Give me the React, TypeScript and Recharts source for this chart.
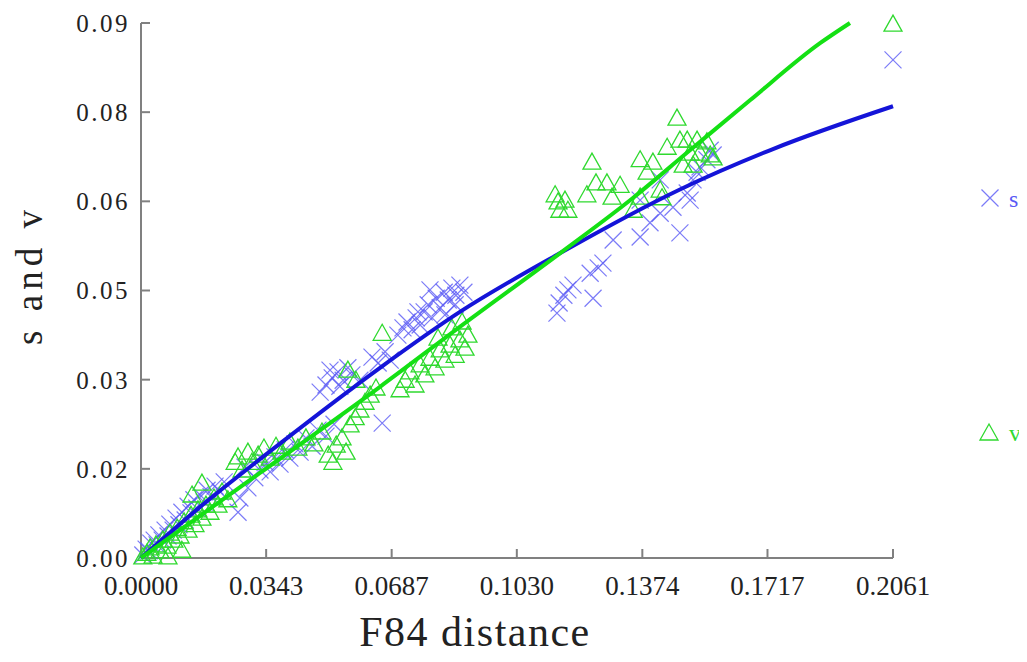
import React from 'react'
import { ScatterChart, Scatter, XAxis, YAxis } from 'recharts'

// F84 distance vs s / v
const xTicks = [0, 0.0343, 0.0687, 0.103, 0.1374, 0.1717, 0.2061]
const yTicks = [0, 0.015, 0.03, 0.045, 0.06, 0.075, 0.09]
const yTickLabels = ['0.00', '0.02', '0.03', '0.05', '0.06', '0.08', '0.09']

const sPoints: [number, number][] = [
  [0.0005, 0.0005], [0.0014, 0.0015], [0.0022, 0.0012], [0.0027, 0.0025], [0.0036, 0.003],
  [0.0044, 0.0022], [0.0049, 0.0039], [0.0058, 0.003], [0.0066, 0.0047], [0.0074, 0.0037],
  [0.0079, 0.0057], [0.0088, 0.0047], [0.0096, 0.0067], [0.0104, 0.0056], [0.0112, 0.0077],
  [0.0121, 0.0064], [0.0129, 0.0087], [0.0137, 0.0076], [0.0145, 0.0098], [0.0153, 0.0084],
  [0.0162, 0.0106], [0.0173, 0.0094], [0.0181, 0.0114], [0.0192, 0.0103], [0.0203, 0.0121],
  [0.0217, 0.0111], [0.0228, 0.0128], [0.0266, 0.0077], [0.0285, 0.0153],
  [0.0271, 0.0101], [0.0293, 0.0118], [0.0312, 0.0135], [0.0326, 0.0148], [0.034, 0.0161],
  [0.0354, 0.0145], [0.0367, 0.017], [0.0381, 0.0158], [0.0395, 0.0182], [0.0408, 0.0168],
  [0.0422, 0.0192], [0.0436, 0.0178], [0.0452, 0.0202], [0.0469, 0.0188], [0.0485, 0.0215],
  [0.0507, 0.0205], [0.0529, 0.0225], [0.0661, 0.0227],
  [0.0491, 0.0279], [0.0507, 0.0291], [0.0524, 0.0303], [0.054, 0.0313], [0.0554, 0.0299],
  [0.0567, 0.032], [0.0518, 0.0316], [0.0545, 0.0289], [0.0578, 0.0308], [0.06, 0.0299],
  [0.0633, 0.0338], [0.065, 0.0328], [0.0669, 0.0347], [0.0683, 0.0333],
  [0.0704, 0.0375], [0.0718, 0.0387], [0.0729, 0.0397], [0.0743, 0.0384], [0.0754, 0.0404],
  [0.0765, 0.0392], [0.0776, 0.0414], [0.0787, 0.0426], [0.0798, 0.0404], [0.0809, 0.0437],
  [0.082, 0.0421], [0.0831, 0.0447], [0.0842, 0.0434], [0.0852, 0.0454], [0.0863, 0.0442],
  [0.0874, 0.0459], [0.0885, 0.0447], [0.0759, 0.0414], [0.0792, 0.0451], [0.0833, 0.0409],
  [0.0861, 0.0426],
  [0.114, 0.0412], [0.1146, 0.0429], [0.1159, 0.0442], [0.117, 0.0451], [0.1184, 0.0459],
  [0.1239, 0.0437], [0.1231, 0.0479], [0.1253, 0.0488], [0.1266, 0.0496], [0.1294, 0.0535],
  [0.1368, 0.054], [0.1368, 0.0602], [0.1395, 0.0564], [0.1423, 0.058], [0.1423, 0.0636],
  [0.1458, 0.059], [0.1477, 0.0547], [0.1497, 0.0614], [0.1513, 0.0636], [0.1532, 0.0658],
  [0.1551, 0.067], [0.156, 0.0686], [0.1568, 0.0678], [0.1505, 0.0602], [0.1524, 0.0649],
  [0.2061, 0.0838],
]

const vPoints: [number, number][] = [
  [0.0005, 0.0002], [0.0016, 0.0008], [0.0025, 0.0017], [0.0033, 0.0003], [0.0041, 0.0022],
  [0.0052, 0.0012], [0.006, 0.003], [0.0071, 0.002], [0.0074, 0.0002], [0.0079, 0.0042],
  [0.009, 0.003], [0.0099, 0.005], [0.0107, 0.0037], [0.0112, 0.0013], [0.0118, 0.0061],
  [0.0129, 0.0047], [0.0137, 0.0072], [0.014, 0.0106], [0.0148, 0.0056], [0.0156, 0.0081],
  [0.0167, 0.0126], [0.0167, 0.0067], [0.0178, 0.0089], [0.0189, 0.0077], [0.02, 0.0101],
  [0.0211, 0.0089], [0.0222, 0.0111], [0.0238, 0.0098],
  [0.0258, 0.0161], [0.0266, 0.017], [0.0277, 0.0148], [0.0293, 0.0178], [0.0304, 0.0161],
  [0.0321, 0.0173], [0.0337, 0.0185], [0.0354, 0.0168], [0.037, 0.0188], [0.0386, 0.0178],
  [0.0408, 0.0195], [0.043, 0.0185], [0.0452, 0.0202], [0.0474, 0.0192], [0.0496, 0.0212],
  [0.0513, 0.0173], [0.0526, 0.0161], [0.0535, 0.019], [0.0551, 0.0202], [0.0562, 0.0178],
  [0.0573, 0.0224], [0.0587, 0.0236], [0.06, 0.0249], [0.0614, 0.0262], [0.0628, 0.0274],
  [0.0644, 0.0286], [0.0661, 0.0378], [0.0567, 0.0316], [0.0589, 0.0299],
  [0.071, 0.0283], [0.0724, 0.0299], [0.0737, 0.0313], [0.0751, 0.0291], [0.0765, 0.0325],
  [0.0778, 0.0308], [0.0792, 0.0336], [0.0806, 0.032], [0.082, 0.035], [0.0833, 0.0333],
  [0.0847, 0.0358], [0.0861, 0.0341], [0.0874, 0.0367], [0.0888, 0.0353], [0.0896, 0.0375],
  [0.0852, 0.0387], [0.088, 0.0397], [0.0814, 0.037],
  [0.1135, 0.0611], [0.1143, 0.0599], [0.1162, 0.0602], [0.1148, 0.0585], [0.117, 0.0585],
  [0.1222, 0.0611], [0.1236, 0.0666], [0.1247, 0.0631], [0.1277, 0.0631], [0.1291, 0.0607],
  [0.1313, 0.0627], [0.1349, 0.0585],
  [0.1368, 0.067], [0.1368, 0.0607], [0.1387, 0.0649], [0.1403, 0.0666], [0.1423, 0.0619],
  [0.1428, 0.0606], [0.1442, 0.0691], [0.1469, 0.074], [0.1477, 0.0703], [0.1486, 0.0661],
  [0.1497, 0.0703], [0.1505, 0.0681], [0.1513, 0.0661], [0.1524, 0.0703], [0.1532, 0.0681],
  [0.1551, 0.07], [0.156, 0.0678], [0.1568, 0.0673],
  [0.2061, 0.0898],
]

// fitted curves
const sFit: [number, number][] = [
  [0, 0], [0.0162, 0.0086], [0.0386, 0.0195], [0.0655, 0.032], [0.0874, 0.0414],
  [0.1149, 0.0513], [0.1477, 0.062], [0.1732, 0.0688], [0.2061, 0.076],
]
const vFit: [number, number][] = [
  [0, 0], [0.0326, 0.0143], [0.0655, 0.0288], [0.0883, 0.0393], [0.1149, 0.0513],
  [0.1349, 0.0606], [0.1497, 0.0682], [0.1669, 0.077], [0.1861, 0.0866], [0.1943, 0.09],
]

const toObj = (arr: [number, number][]) => arr.map(([x, y]) => ({ x, y }))

const S_COLOR = '#5a5af5'
const V_COLOR = '#2fd92f'

const XMark = (props: any) => {
  const { cx, cy } = props
  const r = 8.5
  return (
    <path
      d={`M${cx - r},${cy - r}L${cx + r},${cy + r}M${cx + r},${cy - r}L${cx - r},${cy + r}`}
      stroke={S_COLOR}
      strokeWidth={1.2}
      strokeOpacity={0.8}
      fill="none"
    />
  )
}

const TriMark = (props: any) => {
  const { cx, cy } = props
  return (
    <path
      d={`M${cx},${cy - 9}L${cx + 9},${cy + 7}L${cx - 9},${cy + 7}Z`}
      stroke={V_COLOR}
      strokeWidth={1.3}
      fill="none"
    />
  )
}

const Empty = () => <g />

const axisColor = '#808080'

const App = () => {
  return (
    <div style={{ position: 'relative', width: 1011, height: 646 }}>
      <ScatterChart width={1011} height={646} margin={{ top: 15, right: 126, left: 0, bottom: 0 }}>
        <XAxis
          type="number"
          dataKey="x"
          domain={[0, 0.2061]}
          ticks={xTicks}
          tickFormatter={(v: number) => v.toFixed(4)}
          height={96}
          tickSize={-9}
          tickMargin={27}
          stroke={axisColor}
          strokeWidth={2}
          tick={{ fill: '#222', fontSize: 27, fontFamily: 'Liberation Serif' }}
          label={{
            content: (p: any) => {
              const vb = p.viewBox
              return (
                <text
                  x={vb.x + vb.width / 2 - 42}
                  y={vb.y + 88}
                  textAnchor="middle"
                  fontSize={42}
                  fontFamily="Liberation Serif"
                  letterSpacing={1.5}
                  fill="#222"
                >
                  F84 distance
                </text>
              )
            },
          }}
        />
        <YAxis
          type="number"
          dataKey="y"
          domain={[0, 0.09]}
          ticks={yTicks}
          tickFormatter={(v: number, i: number) => yTickLabels[i]}
          width={133}
          tickSize={-9}
          tickMargin={20}
          stroke={axisColor}
          strokeWidth={2}
          tick={{ fill: '#222', fontSize: 25, fontFamily: 'Liberation Serif', letterSpacing: 2.5 }}
          label={{
            content: () => (
              <text
                transform="translate(34,267) rotate(-90)"
                textAnchor="middle"
                fontSize={37}
                fontFamily="Liberation Serif"
                letterSpacing={5}
                fill="#222"
              >
                s and v
              </text>
            ),
          }}
        />
        <Scatter data={toObj(sPoints)} shape={<XMark />} isAnimationActive={false} />
        <Scatter data={toObj(vPoints)} shape={<TriMark />} isAnimationActive={false} />
        <Scatter
          data={toObj(sFit)}
          line={{ stroke: '#1414d8', strokeWidth: 4 }}
          lineJointType="monotoneX"
          shape={<Empty />}
          isAnimationActive={false}
        />
        <Scatter
          data={toObj(vFit)}
          line={{ stroke: '#14e014', strokeWidth: 4 }}
          lineJointType="monotoneX"
          shape={<Empty />}
          isAnimationActive={false}
        />
      </ScatterChart>
      <svg
        width={1019}
        height={646}
        style={{ position: 'absolute', left: 0, top: 0, pointerEvents: 'none' }}
      >
        <XMark cx={982} cy={190} />
        <text x={1001} y={199} fontSize={24} fontFamily="Liberation Serif" fill={S_COLOR}>
          s
        </text>
        <TriMark cx={981} cy={425} />
        <text x={1001} y={433} fontSize={24} fontFamily="Liberation Serif" fill={V_COLOR}>
          v
        </text>
      </svg>
    </div>
  )
}

export default App
